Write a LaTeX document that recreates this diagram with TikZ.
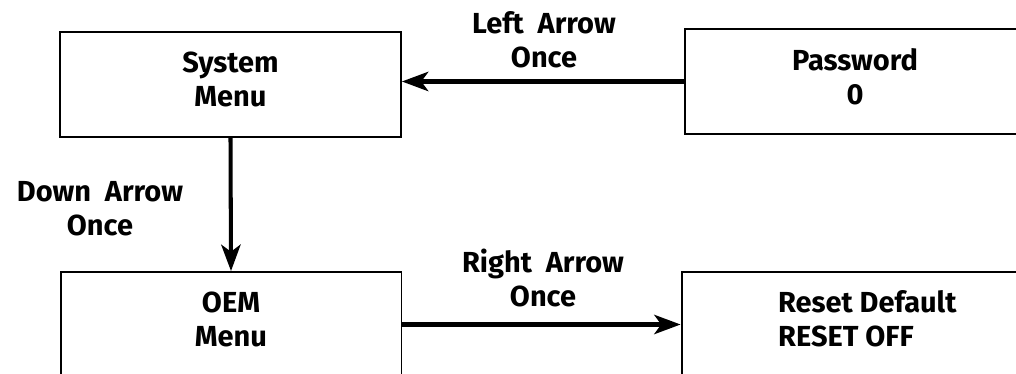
\documentclass[tikz,border=0pt]{standalone}
\usepackage{fontspec}
\setmainfont{Fira Sans}
\usepackage{tikz}
\usetikzlibrary{ 
  	positioning,
  	arrows.meta,
  	calc
  }
\tikzstyle{menubox}=[draw,line width=1.1pt,minimum width=6.82cm,minimum height=2.1cm,text depth=0.2cm,align=center]
\tikzstyle{keylabel}=[align=center]
\tikzstyle{keyarrow}=[line width=2.3pt,-{Stealth[length=15pt,width=11pt,inset=4pt]}]

\begin{document}
\begin{tikzpicture}[x=0.02cm,y=-0.02cm,font=\fontsize{16.5}{19.3}\selectfont\bfseries]
  \useasboundingbox (0,0) rectangle (1016,374);
  \clip (0,0) rectangle (1016,374);
  \node[menubox] (sys) at (230.5,84.5) {System\\Menu};
  \node[menubox] (pw) at (855,81.5) {Password\\0};
  \node[menubox] (oem) at (231,324.5) {OEM\\Menu};
  \node[menubox,text depth=0pt] (reset) at (852,324.5) {};
  \node[align=left,anchor=west] (resettxt) at (772,319) {Reset Default\\RESET OFF};
%
  \draw[keyarrow] (pw.west) -- (pw.west -| sys.east);
  \draw[keyarrow] (sys.south) -- (oem.north);
  \draw[keyarrow] (oem.east) -- (reset.west);
%
  \node[keylabel] (leftkey) at (544,40) {Left\ \ Arrow\\Once};
  \node[keylabel] (downkey) at (100,209) {Down\ \ Arrow\\Once};
  \node[keylabel] (rightkey) at (543,278) {Right\ \ Arrow\\Once};
\end{tikzpicture}
\end{document}
